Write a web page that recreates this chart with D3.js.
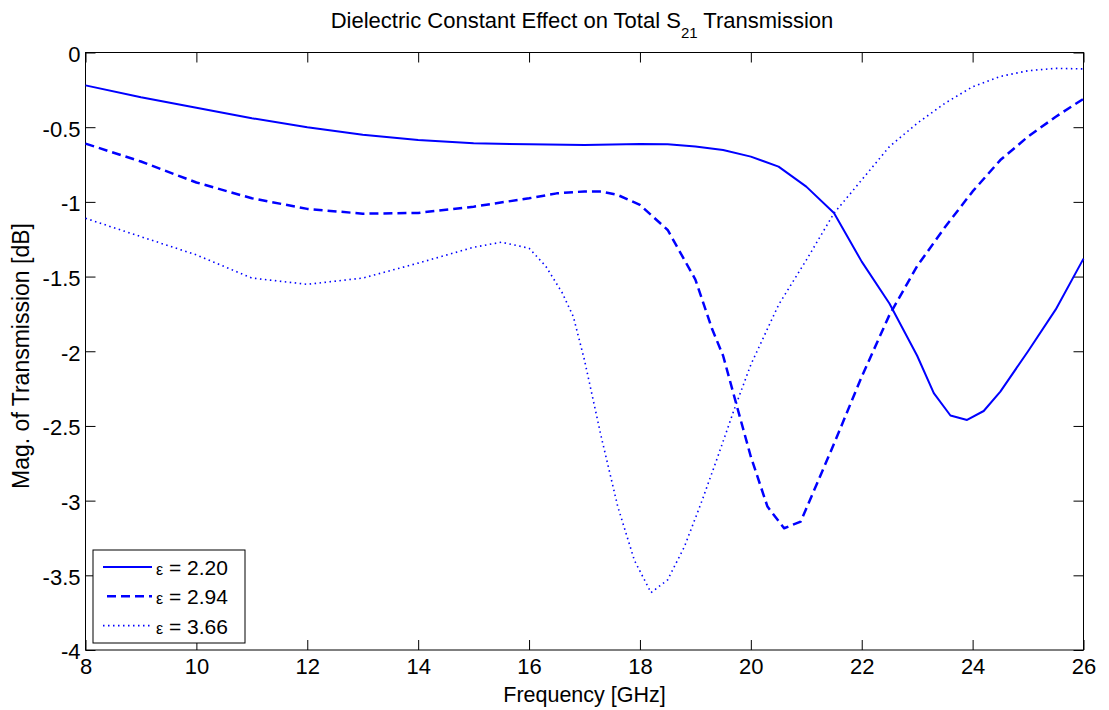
<!DOCTYPE html>
<html>
<head>
<meta charset="utf-8">
<script src="https://cdn.jsdelivr.net/npm/d3@7"></script>
<style>
  body { margin: 0; background: #fff; }
  text { font-family: "Liberation Sans", Arial, sans-serif; }
</style>
</head>
<body>
<div id="chart"></div>
<script>
// frequency / magnitude pairs
var freq22 = [8, 9, 10, 11, 12, 13, 14, 15, 16, 17, 18, 18.5, 19, 19.5, 20, 20.5, 21, 21.5, 22, 22.5, 23, 23.3, 23.6, 23.9, 24.2, 24.5, 25, 25.5, 26];
var mag22  = [-0.22, -0.30, -0.37, -0.44, -0.50, -0.55, -0.585, -0.608, -0.615, -0.62, -0.612, -0.615, -0.63, -0.653, -0.697, -0.764, -0.898, -1.075, -1.40, -1.68, -2.03, -2.28, -2.43, -2.46, -2.40, -2.27, -2.00, -1.72, -1.38];

var freq294 = [8, 9, 10, 11, 12, 13, 14, 15, 16, 16.5, 17, 17.3, 17.6, 18, 18.5, 19, 19.3, 19.5, 19.75, 20, 20.3, 20.6, 20.9, 21.2, 21.5, 22, 22.5, 23, 23.5, 24, 24.5, 25, 25.5, 26];
var mag294  = [-0.61, -0.73, -0.87, -0.976, -1.047, -1.079, -1.074, -1.032, -0.976, -0.943, -0.93, -0.93, -0.954, -1.02, -1.188, -1.52, -1.85, -2.03, -2.37, -2.706, -3.04, -3.185, -3.14, -2.88, -2.62, -2.17, -1.757, -1.43, -1.17, -0.93, -0.72, -0.563, -0.43, -0.31];

var freq366 = [8, 9, 10, 11, 12, 13, 14, 15, 15.5, 16, 16.3, 16.6, 16.8, 17, 17.3, 17.6, 17.9, 18.2, 18.5, 18.8, 19.1, 19.4, 19.7, 20, 20.5, 21, 21.5, 22, 22.5, 23, 23.5, 24, 24.5, 25, 25.5, 26];
var mag366  = [-1.11, -1.233, -1.355, -1.51, -1.552, -1.51, -1.41, -1.304, -1.27, -1.31, -1.43, -1.61, -1.77, -2.06, -2.57, -3.04, -3.40, -3.616, -3.53, -3.31, -3.02, -2.71, -2.39, -2.09, -1.69, -1.39, -1.076, -0.853, -0.63, -0.474, -0.34, -0.229, -0.16, -0.122, -0.106, -0.11];

var legendValues = ["2.20", "2.94", "3.66"];
var xTicks = [8, 10, 12, 14, 16, 18, 20, 22, 24, 26];
var yTicks = [0, -0.5, -1, -1.5, -2, -2.5, -3, -3.5, -4];

var series = [
    {name: legendValues[0], f: freq22,  m: mag22,  dash: null,      w: 2},
    {name: legendValues[1], f: freq294, m: mag294, dash: "9,5",     w: 2.5},
    {name: legendValues[2], f: freq366, m: mag366, dash: "1.5,3.5", w: 1.6}
];

var W = 1109, H = 710;
var margin = {top: 52.5, right: 25.5, bottom: 60, left: 85.5};
var width = W - margin.left - margin.right,
    height = H - margin.top - margin.bottom;

var svg = d3.select("#chart").append("svg")
    .attr("width", W)
    .attr("height", H);

var g = svg.append("g")
    .attr("transform", "translate(" + margin.left + "," + margin.top + ")");

var x = d3.scaleLinear().domain([8, 26]).range([0, width]);
var y = d3.scaleLinear().domain([-4, 0]).range([height, 0]);

var tickLen = 10;

// axes: ticks point inward, labels outside
g.append("g")
    .attr("class", "xlab")
    .attr("transform", "translate(0," + height + ")")
    .call(d3.axisBottom(x).tickValues(xTicks).tickSizeInner(-tickLen).tickSizeOuter(0).tickPadding(8).tickFormat(d3.format("d")));
g.append("g")
    .call(d3.axisTop(x).tickValues(xTicks).tickSizeInner(-tickLen).tickSizeOuter(0).tickFormat(""));
g.append("g")
    .attr("class", "ylab")
    .call(d3.axisLeft(y).tickValues(yTicks).tickSizeInner(-tickLen).tickSizeOuter(0).tickPadding(5).tickFormat(function (d) { return String(d); }));
g.append("g")
    .attr("transform", "translate(" + width + ",0)")
    .call(d3.axisRight(y).tickValues(yTicks).tickSizeInner(-tickLen).tickSizeOuter(0).tickFormat(""));

g.selectAll(".domain").remove();
g.selectAll(".tick line").attr("stroke", "#000").attr("stroke-width", 1);
g.selectAll(".tick text")
    .style("font-size", "22px")
    .style("fill", "#000");
g.selectAll(".ylab .tick text").attr("dy", "0.40em");

// box
g.append("rect")
    .attr("x", 0).attr("y", 0)
    .attr("width", width).attr("height", height)
    .attr("fill", "none")
    .attr("stroke", "#000")
    .attr("stroke-width", 1);

var line = d3.line()
    .x(function (d) { return x(d[0]); })
    .y(function (d) { return y(d[1]); });

g.selectAll(".curve")
    .data(series)
    .enter().append("path")
    .attr("class", "curve")
    .attr("d", function (s) { return line(d3.zip(s.f, s.m)); })
    .attr("fill", "none")
    .attr("stroke", "#0000ff")
    .attr("stroke-width", function (s) { return s.w; })
    .attr("stroke-dasharray", function (s) { return s.dash; })
    .attr("stroke-linejoin", "round");

// title
var title = svg.append("text")
    .attr("x", 582)
    .attr("y", 28)
    .attr("text-anchor", "middle")
    .style("font-size", "22px")
    .style("fill", "#000");
title.append("tspan").text("Dielectric Constant Effect on Total S");
title.append("tspan").attr("dy", 10).style("font-size", "15px").text("21");
title.append("tspan").attr("dy", -10).text(" Transmission");

// axis labels
svg.append("text")
    .attr("x", margin.left + width / 2)
    .attr("y", 702)
    .attr("text-anchor", "middle")
    .style("font-size", "21.5px")
    .style("fill", "#000")
    .text("Frequency [GHz]");

svg.append("text")
    .attr("transform", "translate(29,356) rotate(-90)")
    .attr("text-anchor", "middle")
    .style("font-size", "23px")
    .style("fill", "#000")
    .text("Mag. of Transmission [dB]");

// legend
var legend = svg.append("g").attr("transform", "translate(93,550)");
legend.append("rect")
    .attr("width", 152).attr("height", 93)
    .attr("fill", "#fff")
    .attr("stroke", "#000")
    .attr("stroke-width", 1);

var item = legend.selectAll(".item")
    .data(series)
    .enter().append("g")
    .attr("class", "item")
    .attr("transform", function (s, i) { return "translate(0," + (17 + i * 29.3) + ")"; });

item.append("line")
    .attr("x1", function (s, i) { return i == 1 ? 14 : 10; })
    .attr("x2", 59)
    .attr("stroke", "#0000ff")
    .attr("stroke-width", function (s) { return s.w; })
    .attr("stroke-dasharray", function (s) { return s.dash; });

var lt = item.append("text")
    .attr("x", 63)
    .attr("y", 8)
    .style("fill", "#000");
lt.append("tspan").style("font-size", "16px").text("\u03b5");
lt.append("tspan").style("font-size", "21px").text(function (s) { return " = " + s.name; });
</script>
</body>
</html>
